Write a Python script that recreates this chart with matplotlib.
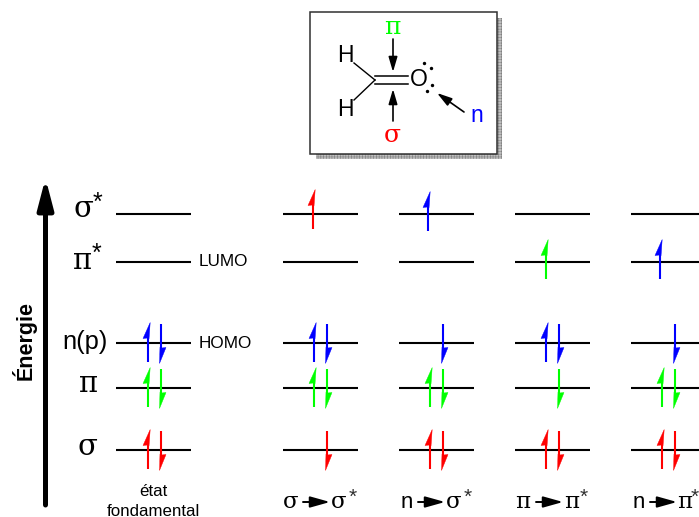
import matplotlib
matplotlib.use('Agg')
import matplotlib.pyplot as plt
from matplotlib.patches import Polygon, Rectangle

RED = '#ff0000'
GREEN = '#00ff00'
BLUE = '#0000ff'

# Orbital levels, pixel heights in the picture.
levelNames = ['sigma*', 'pi*', 'n', 'pi', 'sigma']
levelY = [214, 262, 343, 388, 450]

# Left end of the level lines of each column.
columnX = [116, 283, 399, 515, 631]
lineLength = 75

# Electrons of each column: (level index, 'up' or 'down', x offset, y offset, color).
columnElectrons = [
    [(2, 'up', 32, 0, BLUE), (2, 'down', 45, 0, BLUE),
     (3, 'up', 32, 0, GREEN), (3, 'down', 45, 0, GREEN),
     (4, 'up', 32, 0, RED), (4, 'down', 45, 0, RED)],
    [(0, 'up', 30, -4, RED),
     (2, 'up', 31, 0, BLUE), (2, 'down', 44, 0, BLUE),
     (3, 'up', 31, 0, GREEN), (3, 'down', 44, 0, GREEN),
     (4, 'down', 44, 0, RED)],
    [(0, 'up', 29, -2, BLUE),
     (2, 'down', 44, 0, BLUE),
     (3, 'up', 31, 0, GREEN), (3, 'down', 44, 0, GREEN),
     (4, 'up', 31, 0, RED), (4, 'down', 44, 0, RED)],
    [(1, 'up', 31, -2, GREEN),
     (2, 'up', 31, 0, BLUE), (2, 'down', 44, 0, BLUE),
     (3, 'down', 44, 0, GREEN),
     (4, 'up', 31, 0, RED), (4, 'down', 44, 0, RED)],
    [(1, 'up', 29, -2, BLUE),
     (2, 'down', 44, 0, BLUE),
     (3, 'up', 31, 0, GREEN), (3, 'down', 44, 0, GREEN),
     (4, 'up', 31, 0, RED), (4, 'down', 44, 0, RED)],
]

# Transition captions under the columns.
captionLeft = ['σ', 'n', 'π', 'n']
captionRight = ['σ', 'σ', 'π', 'π']
captionLeftX = [291, 407, 523, 639]
captionArrowX = [303, 418, 536, 650]
captionRightX = [339, 454, 572, 685]
captionStarX = [353, 468, 584, 695]

TEXT_FONT = 'Liberation Sans'
GREEK_FONT = 'DejaVu Serif'


# One electron, drawn as a half arrow.
def drawElectron(ax, x, y, direction, color):
    if direction == 'up':
        ax.plot([x, x], [y - 12, y + 19], color=color, lw=1.5, solid_capstyle='butt', zorder=3)
        head = [(x + 2.2, y - 20.5), (x + 1, y - 4), (x - 0.5, y - 5), (x - 5, y - 4.5)]
    else:
        ax.plot([x, x], [y - 19, y + 12], color=color, lw=1.5, solid_capstyle='butt', zorder=3)
        head = [(x - 1.5, y + 20.5), (x + 5, y + 4.5), (x + 0.5, y + 5), (x - 1, y + 4)]
    ax.add_patch(Polygon(head, closed=True, fc=color, ec=color, lw=0.3, zorder=3))


# Plain black arrow with a filled head.
def drawArrow(ax, start, end, lw=1.2, size=12, length=0.75, width=0.22):
    style = '-|>,head_length={},head_width={}'.format(length, width)
    ax.annotate('', xy=end, xytext=start,
                arrowprops=dict(arrowstyle=style, color='black', lw=lw, mutation_scale=size,
                                shrinkA=0, shrinkB=0), zorder=4)


fig = plt.figure(figsize=[6.99, 5.17], dpi=100)
ax = fig.add_axes([0, 0, 1, 1])
ax.set_xlim(0, 699)
ax.set_ylim(517, 0)
ax.axis('off')

# Molecule box with its stippled shadow.
matplotlib.rcParams['hatch.linewidth'] = 0.4
ax.add_patch(Rectangle((316, 18), 186, 141, fc='#c0c0c0', ec='#808080', lw=0, hatch='++++++', zorder=1))
ax.add_patch(Rectangle((310, 12), 187, 142, fc='white', ec='#303030', lw=1.1, zorder=2))

# Formaldehyde.
ax.plot([354, 375], [63, 80], color='black', lw=1.0, zorder=3)
ax.plot([354, 375], [100, 80], color='black', lw=1.0, zorder=3)
ax.plot([375, 408], [76, 76], color='black', lw=1.1, zorder=3)
ax.plot([375, 408], [84, 84], color='black', lw=1.1, zorder=3)
for name, x, y in [('H', 345, 56), ('H', 345, 109), ('O', 419, 80)]:
    ax.text(x, y, name, family=TEXT_FONT, fontsize=16.5, ha='center', va='center', zorder=3)
ax.scatter([424, 431, 432, 427], [63, 68, 85, 91], s=6, color='black', lw=0, zorder=3)
ax.text(392, 27, 'π', color=GREEN, family=GREEK_FONT, fontsize=18, ha='center', va='center', zorder=3)
ax.text(392, 135, 'σ', color=RED, family=GREEK_FONT, fontsize=18, ha='center', va='center', zorder=3)
ax.text(477, 116, 'n', color=BLUE, family=TEXT_FONT, fontsize=16.5, ha='center', va='center', zorder=3)
for start, end in [((393, 39), (393, 72)), ((393, 121), (393, 89)), ((464, 112), (437, 93))]:
    drawArrow(ax, start, end)

# Energy axis.
drawArrow(ax, (45.5, 505), (45.5, 178), lw=3.6, size=18, length=1.0, width=0.26)
ax.text(24, 341, 'Énergie', family=TEXT_FONT, fontweight='bold', fontsize=15.5,
        rotation=90, ha='center', va='center')

# Level lines.
for x0 in columnX:
    for y in levelY:
        ax.plot([x0, x0 + lineLength], [y, y], color='black', lw=1.5, solid_capstyle='butt', zorder=2)

# Level names on the left.
ax.text(83, 209, 'σ', family=GREEK_FONT, fontsize=21, ha='center', va='center')
ax.text(97, 203, '*', family=TEXT_FONT, fontsize=18, ha='center', va='center')
ax.text(82, 261, 'π', family=GREEK_FONT, fontsize=21, ha='center', va='center')
ax.text(96, 254, '*', family=TEXT_FONT, fontsize=18, ha='center', va='center')
ax.text(85, 342, 'n(p)', family=TEXT_FONT, fontsize=18.4, ha='center', va='center')
ax.text(88, 384, 'π', family=GREEK_FONT, fontsize=21, ha='center', va='center')
ax.text(87, 447, 'σ', family=GREEK_FONT, fontsize=21, ha='center', va='center')

ax.text(199, 262, 'LUMO', family=TEXT_FONT, fontsize=12.3, ha='left', va='center')
ax.text(199, 344, 'HOMO', family=TEXT_FONT, fontsize=12.3, ha='left', va='center')

# Electrons.
for x0, electrons in zip(columnX, columnElectrons):
    for level, direction, dx, dy, color in electrons:
        drawElectron(ax, x0 + dx, levelY[level] + dy, direction, color)

# Captions.
ax.text(153, 492, 'état', family=TEXT_FONT, fontsize=12.2, ha='center', va='center')
ax.text(153, 511, 'fondamental', family=TEXT_FONT, fontsize=12.2, ha='center', va='center')
for i in range(len(captionLeft)):
    left = captionLeft[i]
    if left == 'n':
        ax.text(captionLeftX[i], 502, left, family=TEXT_FONT, fontsize=16, ha='center', va='center')
    else:
        ax.text(captionLeftX[i], 502, left, family=GREEK_FONT, fontsize=16.5, ha='center', va='center')
    drawArrow(ax, (captionArrowX[i], 502), (captionArrowX[i] + 27, 502), lw=1.4, size=12,
              length=1.0, width=0.28)
    ax.text(captionRightX[i], 502, captionRight[i], family=GREEK_FONT, fontsize=16.5, ha='center', va='center')
    ax.text(captionStarX[i], 497, '*', family=TEXT_FONT, fontsize=15, ha='center', va='center', color='#303030')

fig.savefig('out.png', dpi=100)
